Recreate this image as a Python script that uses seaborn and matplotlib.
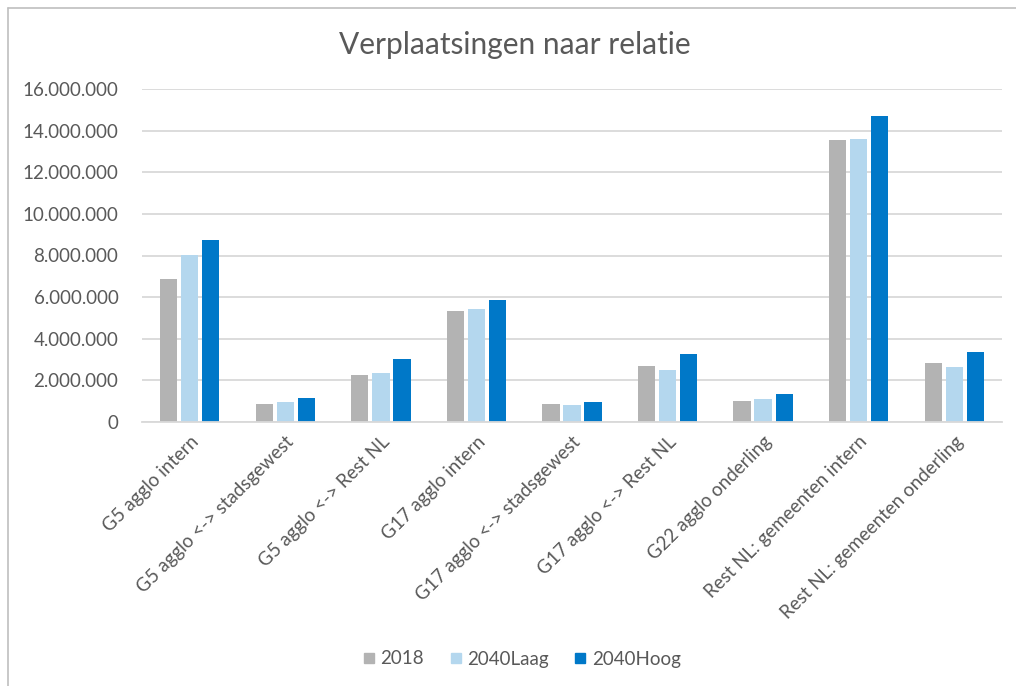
import matplotlib
matplotlib.use("Agg")
import matplotlib.pyplot as plt
import seaborn as sns
import pandas as pd
from matplotlib.ticker import FuncFormatter
from matplotlib.lines import Line2D

categories = ["G5 agglo intern", "G5 agglo <-> stadsgewest", "G5 agglo <-> Rest NL",
              "G17 agglo intern", "G17 agglo <-> stadsgewest", "G17 agglo <-> Rest NL",
              "G22 agglo onderling", "Rest NL: gemeenten intern", "Rest NL: gemeenten onderling"]
series_names = ["2018", "2040Laag", "2040Hoog"]
v2018 = [6880000, 860000, 2240000, 5310000, 850000, 2710000, 1010000, 13560000, 2850000]
v2040laag = [8020000, 960000, 2340000, 5450000, 800000, 2500000, 1120000, 13600000, 2640000]
v2040hoog = [8750000, 1170000, 3010000, 5840000, 960000, 3280000, 1360000, 14690000, 3380000]
colors = ["#b3b3b3", "#b4d7ee", "#0078c8"]

rows = []
for s, vals in zip(series_names, [v2018, v2040laag, v2040hoog]):
    for c, v in zip(categories, vals):
        rows.append({"cat": c, "serie": s, "val": v})
df = pd.DataFrame(rows)

sns.set_style("white")
plt.rcParams['font.family'] = ['Lato', 'DejaVu Sans']
txt = "#595959"

fig = plt.figure(figsize=(10.16, 6.86), dpi=100)
ax = fig.add_axes([142/1016, 1 - 422/686, (1002-142)/1016, (422-89)/686])
sns.barplot(data=df, x="cat", y="val", hue="serie", palette=colors, order=categories,
            hue_order=series_names, width=0.66, gap=0.18, ax=ax, legend=False,
            edgecolor="none", linewidth=0, saturation=1)
ax.set_ylim(0, 16000000)
ax.set_yticks(range(0, 16000001, 2000000))
ax.yaxis.set_major_formatter(FuncFormatter(lambda v, p: f"{int(v):,}".replace(",", ".")))
ax.grid(axis="y", color="#d9d9d9", linewidth=1.3)
ax.set_axisbelow(True)
for s in ["left", "right", "top"]:
    ax.spines[s].set_visible(False)
ax.spines["bottom"].set_color("#d9d9d9")
ax.spines["bottom"].set_linewidth(1.3)
ax.set_xlabel("")
ax.set_ylabel("")
ax.tick_params(axis="both", length=0, colors=txt, labelsize=13.5)
ax.tick_params(axis="y", pad=17)
plt.setp(ax.get_xticklabels(), rotation=45, ha="right", va="top", rotation_mode="anchor")
ax.tick_params(axis="x", pad=8)

fig.text(0.507, 1 - 45/686, "Verplaatsingen naar relatie", ha="center", va="center",
         fontsize=21.5, color=txt)

handles = [Line2D([0], [0], marker="s", linestyle="none", markersize=6.5,
                  markerfacecolor=c, markeredgecolor=c) for c in colors]
fig.legend(handles, series_names, loc="center", bbox_to_anchor=(521/1016, 1 - 659/686),
           ncol=3, frameon=False, fontsize=13.5, labelcolor=txt, handletextpad=0.2,
           columnspacing=1.3, handlelength=0.8)

fig.add_artist(Line2D([8/1016, 8/1016], [0, 1 - 8/686], color="#bfbfbf", linewidth=1.2,
                      transform=fig.transFigure))
fig.add_artist(Line2D([8/1016, 1], [1 - 8/686, 1 - 8/686], color="#bfbfbf", linewidth=1.2,
                      transform=fig.transFigure))

fig.savefig("out.png", dpi=100, facecolor="white")
